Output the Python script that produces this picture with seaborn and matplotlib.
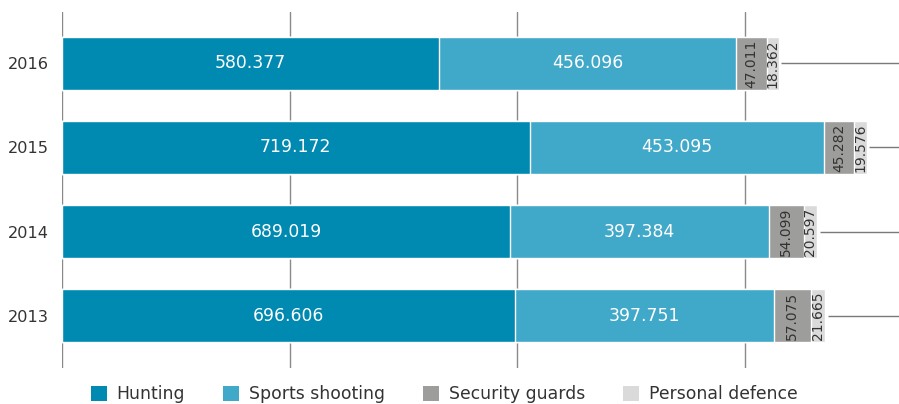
import matplotlib
matplotlib.use("Agg")
import matplotlib.pyplot as plt
from matplotlib.patches import Patch
import seaborn as sns
import numpy as np
import pandas as pd

years = ["2016", "2015", "2014", "2013"]
hunting = [580377, 719172, 689019, 696606]
sports = [456096, 453095, 397384, 397751]
security = [47011, 45282, 54099, 57075]
personal = [18362, 19576, 20597, 21665]
series_names = ["Hunting", "Sports shooting", "Security guards", "Personal defence"]
colors = ["#0089B1", "#40A8C9", "#9D9D9C", "#DADADA"]
grid_ticks = [0, 350000, 700000, 1050000]

sns.set_theme(style="white")
plt.rcParams["font.family"] = ["DejaVu Sans"]

fig = plt.figure(figsize=(8.99, 4.04), dpi=100)
ax = fig.add_axes([62/899, 36/404, 1 - 62/899, 356/404])

vals = np.array([hunting, sports, security, personal], dtype=float)
cum = np.cumsum(vals, axis=0)
df = pd.DataFrame({"year": years})
for k in range(3, -1, -1):
    df["c"] = cum[k]
    sns.barplot(data=df, x="c", y="year", order=years, color=colors[k],
                orient="h", width=0.63, saturation=1, ax=ax, zorder=2)

xmax = 1287000
ax.set_xlim(0, xmax)
ax.set_ylim(3.62, -0.61)

ax.set_xticks(grid_ticks)
ax.xaxis.grid(True, color="#8a8a8a", lw=1)
ax.set_axisbelow(True)
ax.tick_params(axis="x", labelbottom=False, length=0)
ax.tick_params(axis="y", length=0, labelsize=11.6, labelcolor="#333333", pad=9.5)
for s in ax.spines.values():
    s.set_visible(False)
ax.set_xlabel("")
ax.set_ylabel("")

def fmt(v):
    return f"{int(v):,}".replace(",", ".")

starts = cum - vals
for i in range(len(years)):
    for k in range(4):
        cx = starts[k, i] + vals[k, i] / 2
        if k < 2:
            ax.text(cx, i, fmt(vals[k, i]), ha="center", va="center",
                    color="white", fontsize=12.4, zorder=5)
        else:
            ax.text(cx, i, fmt(vals[k, i]), ha="center", va="center",
                    color="#333333", fontsize=10, rotation=90, zorder=5)
    ax.hlines(i, cum[3, i] + 4000, xmax, color="#7a7a7a", lw=1, zorder=1)

handles = [Patch(facecolor=c, edgecolor="none") for c in colors]
fig.legend(handles, series_names, loc="center", bbox_to_anchor=(444/899, 10/404),
           ncol=4, frameon=False, fontsize=12.4, handlelength=0.95, handleheight=0.95,
           columnspacing=2.2, handletextpad=0.55, labelcolor="#333333")

fig.savefig("out.png", dpi=100)
